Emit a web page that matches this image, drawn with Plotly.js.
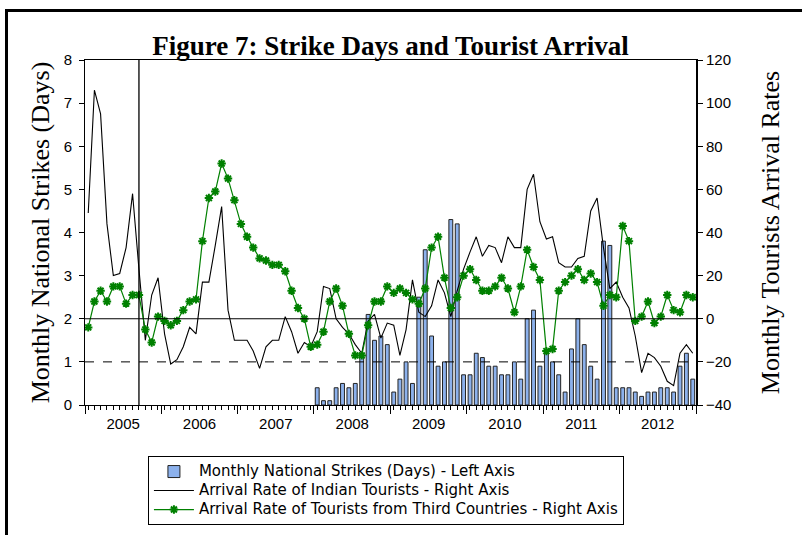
<!DOCTYPE html>
<html>
<head>
<meta charset="utf-8">
<script src="https://cdn.plot.ly/plotly-3.0.1.min.js"></script>
<style>
html,body{margin:0;padding:0;width:802px;height:535px;overflow:hidden;background:#fff;}
#chart{position:absolute;left:0;top:0;width:802px;height:535px;}
#frame{position:absolute;left:5px;top:9px;width:900px;height:700px;border-top:3px solid #000;border-left:3px solid #000;pointer-events:none;}
</style>
</head>
<body>
<div id="chart"></div>
<div id="frame"></div>
<script>
// Monthly observations, Jan 2005 - Dec 2012
var startYear = 2005;
var nMonths = 96;
var months = [];
for (var i = 0; i < nMonths; i++) {
  var y = startYear + Math.floor(i / 12);
  var m = (i % 12) + 1;
  months.push(y + '-' + (m < 10 ? '0' + m : m) + '-01');
}

// Monthly National Strikes (Days) - left axis (no bars before 2008)
var strikeDays = [
  null,null,null,null,null,null,null,null,null,null,null,null,
  null,null,null,null,null,null,null,null,null,null,null,null,
  null,null,null,null,null,null,null,null,null,null,null,null,
  0.4,0.1,0.1,0.4,0.5,0.4,0.5,1.2,2.1,1.5,1.6,1.4,
  0.3,0.6,1.0,0.5,2.5,3.6,1.6,0.9,1.0,4.3,4.2,0.7,
  0.7,1.2,1.1,0.9,0.9,0.7,0.7,1.0,0.6,2.0,2.2,0.9,
  1.2,1.0,0.7,0.3,1.3,2.0,1.4,0.9,0.6,3.8,3.7,0.4,
  0.4,0.4,0.3,0.2,0.3,0.3,0.4,0.4,0.3,0.9,1.2,0.6
];

// Arrival Rate of Indian Tourists - right axis
var indianRate = [
  49,106,95,44,20,21,33,58,23,-10,11,19,
  -7,-21,-19,-13,-4,-7,17,17,34,52,4,-10,
  -10,-10,-15,-23,-13,-10,-10,1,-6,-16,-11,-13,
  -6,15,14,0,-4,-7,-12,-16,-1,2,-9,-2,
  -3,-17,-5,18,3,1,6,18,12,1,13,23,
  31,38,29,34,33,26,38,33,33,60,67,45,
  37,38,26,24,24,28,29,50,56,33,14,17,
  10,5,-8,-25,-16,-18,-22,-29,-31,-16,-12,-16
];

// Arrival Rate of Tourists from Third Countries - right axis
var thirdRate = [
  -4,8,13,8,15,15,7,11,11,-5,-11,1,
  -1,-3,-1,4,8,9,36,56,59,72,65,55,
  44,38,33,28,27,25,25,22,13,5,0,-13,
  -12,-6,8,14,6,-7,-17,-17,-3,8,8,15,
  12,14,12,9,7,14,33,38,19,5,10,20,
  23,18,13,13,15,19,14,3,15,32,24,18,
  -15,-14,13,17,20,23,18,21,17,6,11,10,
  43,36,-1,1,8,-2,1,11,4,3,11,10
];

var seriesNames = [
  'Monthly National Strikes (Days) - Left Axis',
  'Arrival Rate of Indian Tourists - Right Axis',
  'Arrival Rate of Tourists from Third Countries - Right Axis'
];

function legendLabel(s) { return '<span style="font-size:15px">' + s + '</span>'; }

var traces = [
  {
    type: 'bar', x: months, y: strikeDays, name: legendLabel(seriesNames[0]),
    xperiod: 'M1', xperiodalignment: 'middle',
    width: 1.6e9,
    marker: {color: '#8cb1ec', line: {color: '#222', width: 1}},
    yaxis: 'y'
  },
  {
    type: 'scatter', mode: 'lines', x: months, y: indianRate, name: legendLabel(seriesNames[1]),
    xperiod: 'M1', xperiodalignment: 'middle',
    line: {color: '#000', width: 1.1},
    yaxis: 'y2'
  },
  {
    type: 'scatter', mode: 'lines+markers', x: months, y: thirdRate, name: legendLabel(seriesNames[2]),
    xperiod: 'M1', xperiodalignment: 'middle',
    line: {color: '#008000', width: 1.2},
    marker: {symbol: 'asterisk-open', size: 7, color: '#008000', line: {color: '#008000', width: 2}},
    yaxis: 'y2'
  }
];

var tickFont = {family: 'Liberation Sans, Arial, sans-serif', size: 15, color: '#000'};
var titleFont = {family: 'Liberation Serif, Times New Roman, serif', size: 26, color: '#000'};

var layout = {
  width: 802, height: 535,
  margin: {l: 85, r: 106, t: 60, b: 130, pad: 0, autoexpand: false},
  paper_bgcolor: 'rgba(0,0,0,0)', plot_bgcolor: '#fff',
  showlegend: true,
  title: {
    text: '<b>Figure 7: Strike Days and Tourist Arrival</b>',
    font: {family: 'Liberation Serif, Times New Roman, serif', size: 27, color: '#000'},
    x: 0.487, xanchor: 'center', y: 0.914, yanchor: 'middle'
  },
  xaxis: {
    type: 'date',
    range: ['2005-01-01', '2013-01-01'],
    tickmode: 'linear', tick0: '2005-01-01', dtick: 'M12',
    tickformat: '%Y', ticklabelmode: 'period',
    ticks: 'outside', ticklen: 8, tickwidth: 1, tickcolor: '#000',
    ticklabelstandoff: -3,
    minor: {tick0: '2005-01-16', dtick: 'M1', ticks: 'outside', ticklen: 4, tickwidth: 1, tickcolor: '#000', showgrid: false},
    showgrid: false, zeroline: false,
    showline: true, linecolor: '#000', linewidth: 1, mirror: true,
    tickfont: tickFont
  },
  yaxis: {
    range: [0, 8], dtick: 1, tick0: 0,
    ticks: 'outside', ticklen: 5, tickcolor: '#000',
    ticklabelstandoff: 4,
    showgrid: false, zeroline: false,
    showline: true, linecolor: '#000', linewidth: 1,
    tickfont: tickFont,
    title: {text: 'Monthly National Strikes (Days)', font: titleFont, standoff: 6}
  },
  yaxis2: {
    range: [-40, 120], dtick: 20, tick0: 0,
    overlaying: 'y', side: 'right',
    ticks: 'outside', ticklen: 5, tickcolor: '#000',
    showgrid: false, zeroline: false,
    showline: true, linecolor: '#000', linewidth: 2,
    tickfont: tickFont,
    title: {text: 'Monthly Tourists Arrival Rates', font: titleFont, standoff: 30}
  },
  legend: {
    x: 0.103, y: -0.148, xanchor: 'left', yanchor: 'top',
    orientation: 'v', traceorder: 'normal',
    bordercolor: '#000', borderwidth: 1, bgcolor: '#fff',
    font: {family: 'DejaVu Sans, sans-serif', size: 12.2, color: '#000'},
    itemwidth: 40
  },
  shapes: [
    {type: 'line', xref: 'paper', x0: 0, x1: 1, yref: 'y2', y0: 0, y1: 0, line: {color: '#000', width: 1}},
    {type: 'line', xref: 'paper', x0: 0, x1: 1, yref: 'y2', y0: -20, y1: -20, line: {color: '#000', width: 1, dash: 'dash'}},
    {type: 'line', xref: 'x', x0: '2005-09-16', x1: '2005-09-16', yref: 'paper', y0: 0, y1: 1, line: {color: '#000', width: 1.3}}
  ]
};

Plotly.newPlot('chart', traces, layout, {displayModeBar: false, staticPlot: true});
</script>
</body>
</html>
